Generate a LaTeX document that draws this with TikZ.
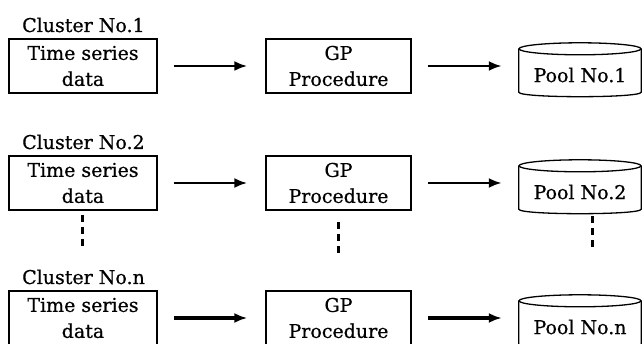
\documentclass[tikz,border=0pt]{standalone}
\usepackage{fontspec}
\setmainfont{DejaVu Serif}[FakeBold=0.6]
\usetikzlibrary{arrows.meta}
\begin{document}
\begin{tikzpicture}[x=1pt,y=-1pt,
  lbl/.style={font=\fontsize{19}{22}\selectfont, anchor=base west, inner sep=0},
  databox/.style={draw, line width=1.3pt, minimum width=148pt, minimum height=54pt, inner sep=0, align=center, font=\fontsize{19}{26}\selectfont},
  gpbox/.style={databox, minimum width=145pt},
  poolbody/.style={minimum width=122pt, minimum height=43pt, inner sep=0},
  pooltxt/.style={font=\fontsize{19}{22}\selectfont, inner sep=0},
  cyl/.style={line width=1.3pt},
  arr/.style={-{Latex[length=13pt,width=10pt]}},
  dots/.style={line width=3pt, dash pattern=on 7pt off 5pt}
]
\useasboundingbox (0,0) rectangle (643,344);
\foreach \dy/\i/\lab/\lw in {0/1/1/2.6,117/2/2/2.6,252/3/n/3.6}{
  \node[lbl] (c\i) at (22,32+\dy) {Cluster No.\lab};
  \node[databox] (b\i) at (83,66+\dy) {Time series\\data};
  \node[gpbox] (g\i) at (338.5,66+\dy) {GP\\Procedure};
  \node[poolbody] (p\i) at (580,70.5+\dy) {};
  \node[pooltxt] (t\i) at (580,75+\dy) {Pool No.\lab};
  \draw[cyl] (p\i.north) ellipse [x radius=61pt, y radius=6pt];
  \draw[cyl] (p\i.north west) -- (p\i.south west)
     .. controls +(0,6) and +(0,6) .. (p\i.south east) -- (p\i.north east);
  \draw[arr, line width=\lw pt, shorten <=16pt, shorten >=18pt] (b\i) -- (g\i);
  \draw[arr, line width=\lw pt, shorten <=16pt, shorten >=17pt] (g\i.east) -- (g\i.east -| p\i.west);
}
\coordinate (d1a) at (82,215);  \coordinate (d1b) at (82,246);
\coordinate (d2a) at (338,222); \coordinate (d2b) at (338,253);
\coordinate (d3a) at (592,216); \coordinate (d3b) at (592,247);
\draw[dots] (d1a) -- (d1b);
\draw[dots] (d2a) -- (d2b);
\draw[dots] (d3a) -- (d3b);
\end{tikzpicture}
\end{document}
